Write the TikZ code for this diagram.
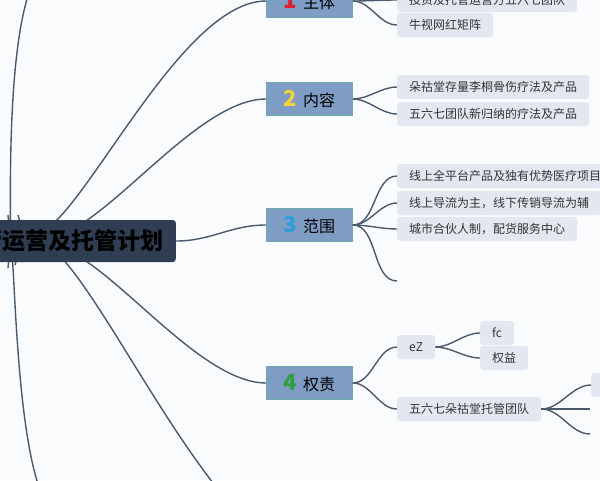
\documentclass[tikz,border=0pt]{standalone}
\usepackage{fontspec}
\usetikzlibrary{backgrounds}
\setmainfont{Noto Sans CJK SC}
\definecolor{bg}{HTML}{FAFBFC}
\definecolor{cen}{HTML}{2F3E52}
\definecolor{mainf}{HTML}{7F9CC4}
\definecolor{mainb}{HTML}{6FA8A8}
\definecolor{leaf}{HTML}{E3E8F0}
\definecolor{ln}{HTML}{4A5A6E}
\definecolor{txt}{HTML}{333333}
\tikzset{
  mainbox/.style={draw=mainb,fill=mainf,line width=0.8pt,minimum width=86pt,minimum height=33pt,anchor=west,font=\fontsize{16}{18}\selectfont,text=black,inner sep=0pt},
  leafbox/.style={fill=leaf,rounded corners=3pt,anchor=west,font=\fontsize{12}{14}\selectfont,text=txt,minimum height=24pt,inner xsep=12pt,inner ysep=0pt},
  conn/.style={draw=ln,line width=1.4pt},
  br/.style={conn,out=0,in=180,looseness=0.9}
}
\begin{document}
\begin{tikzpicture}[x=1pt,y=-1pt]
\useasboundingbox (0,0) rectangle (600,480);
\begin{pgfonlayer}{background}
\fill[bg] (0,0) rectangle (600,480);
\end{pgfonlayer}
\clip (0,0) rectangle (600,480);
% central
\node[fill=cen,rounded corners=3pt,minimum height=42pt,anchor=east,text=black,font=\fontsize{23}{25}\selectfont\bfseries,inner xsep=12pt] (c) at (176,241) {托管运营及托管计划};
% main nodes
\node[mainbox] (m1) at (266,1) {\textcolor[HTML]{E02030}{\fontsize{22}{22}\selectfont\bfseries 1}\, 主体};
\node[mainbox] (m2) at (266,99) {\textcolor[HTML]{F5D33A}{\fontsize{22}{22}\selectfont\bfseries 2}\, 内容};
\node[mainbox] (m3) at (266,225) {\textcolor[HTML]{2A9FD8}{\fontsize{22}{22}\selectfont\bfseries 3}\, 范围};
\node[mainbox] (m4) at (266,383) {\textcolor[HTML]{2E9E3E}{\fontsize{22}{22}\selectfont\bfseries 4}\, 权责};
\coordinate (m5) at (300,560);
% central connectors (behind the central node)
\coordinate (s1) at (18,215);
\coordinate (s2) at (22,220);
\coordinate (s4) at (22,262);
\coordinate (s5) at (15,265);
\coordinate (s0) at (8,215);
\coordinate (s6) at (8,268);
\coordinate (t0) at (30,-10);
\coordinate (t6) at (40,490);
\begin{pgfonlayer}{background}
\draw[conn] (s1) to[out=-75,in=180,looseness=0.8] (m1.west);
\draw[conn] (s2) to[out=-60,in=180,looseness=0.8] (m2.west);
\draw[conn] (c.east) to[out=0,in=180] (m3.west);
\draw[conn] (s4) to[out=60,in=180,looseness=0.8] (m4.west);
\draw[conn] (s5) to[out=75,in=160,looseness=0.8] (m5);
\draw[conn] (s0) to[out=-85,in=-110] (t0);
\draw[conn] (s6) to[out=85,in=110] (t6);
\end{pgfonlayer}
% leaves 1
\node[leafbox] (l11) at (397,0) {投资及托管运营方五六七团队};
\node[leafbox] (l12) at (397,25) {牛视网红矩阵};
\draw[br] (m1.east) to (l11.west);
\draw[br] (m1.east) to (l12.west);
% leaves 2
\node[leafbox] (l21) at (397,87) {朵祜堂存量李桐骨伤疗法及产品};
\node[leafbox] (l22) at (397,114) {五六七团队新归纳的疗法及产品};
\draw[br] (m2.east) to (l21.west);
\draw[br] (m2.east) to (l22.west);
% leaves 3
\node[leafbox] (l31) at (397,176) {线上全平台产品及独有优势医疗项目};
\node[leafbox] (l32) at (397,203) {线上导流为主，线下传销导流为辅};
\node[leafbox] (l33) at (397,229) {城市合伙人制，配货服务中心};
\coordinate (l34) at (397,281);
\draw[br] (m3.east) to (l31.west);
\draw[br] (m3.east) to (l32.west);
\draw[br] (m3.east) to (l33.west);
\draw[br] (m3.east) to (l34);
% leaves 4
\node[leafbox,font=\fontsize{12}{14}\selectfont\rmfamily] (l41) at (397,347) {eZ};
\node[leafbox] (l411) at (480,333) {fc};
\node[leafbox] (l412) at (480,358) {权益};
\node[leafbox] (l42) at (397,409) {五六七朵祜堂托管团队};
\draw[br] (m4.east) to (l41.west);
\draw[br] (m4.east) to (l42.west);
\draw[br] (l41.east) to (l411.west);
\draw[br] (l41.east) to (l412.west);
\node[leafbox,minimum width=30pt] (l421) at (591,385) {};
\coordinate (l422) at (590,409);
\coordinate (l423) at (590,434);
\draw[br] (l42.east) to (l421.west);
\draw[br] (l42.east) to (l422);
\draw[br] (l42.east) to (l423);
\end{tikzpicture}
\end{document}
